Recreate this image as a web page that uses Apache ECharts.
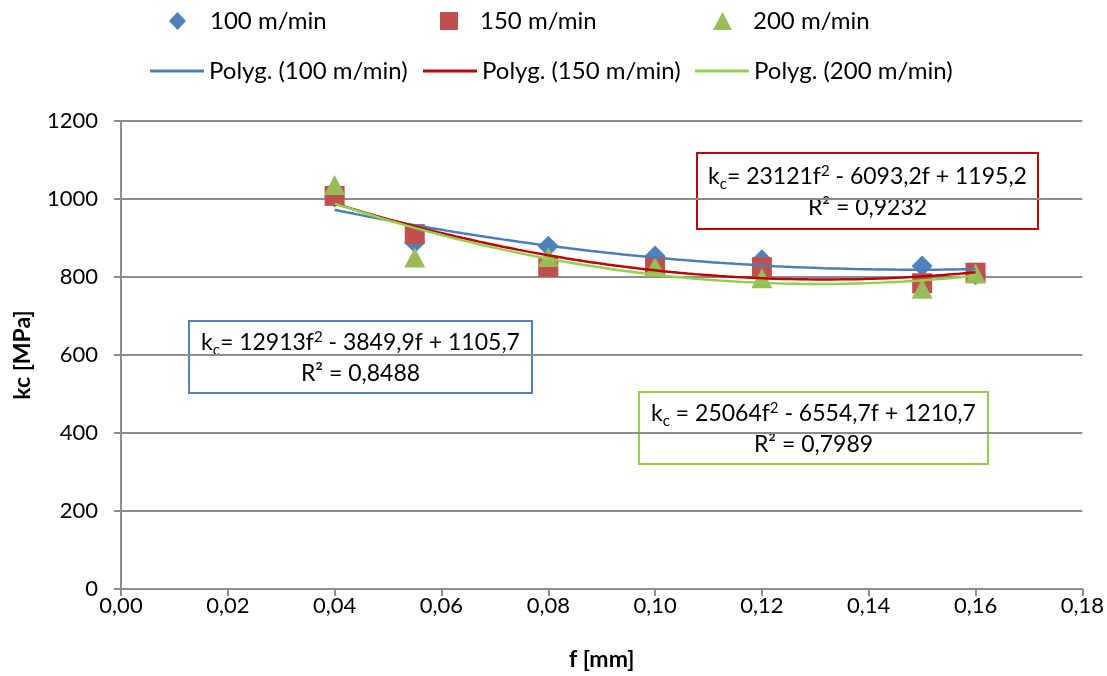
<!DOCTYPE html>
<html>
<head>
<meta charset="utf-8">
<script src="https://cdn.jsdelivr.net/npm/echarts@6/dist/echarts.min.js"></script>
<style>
  html, body { margin: 0; padding: 0; background: #ffffff; }
  #chart { width: 1107px; height: 676px; }
</style>
</head>
<body>
<div id="chart"></div>
<script>
// Measured specific cutting force kc versus feed f, for three cutting speeds
const feed  = [0.04, 0.055, 0.08, 0.10, 0.12, 0.15, 0.16];
const kc100 = [1005, 888, 879, 854, 844, 828, 806];
const kc150 = [1008, 910, 826, 828, 825, 784, 811];
const kc200 = [1036, 850, 851, 826, 797, 770, 809];

// Second-order polynomial trend lines: [a2, a1, a0] for kc = a2*f^2 + a1*f + a0
const fit100 = [12913, -3849.9, 1105.7];
const fit150 = [23121, -6093.2, 1195.2];
const fit200 = [25064, -6554.7, 1210.7];
const rsq = ['0,8488', '0,9232', '0,7989'];

const speeds = ['100 m/min', '150 m/min', '200 m/min'];
const trendNames = ['Polyg. (100 m/min)', 'Polyg. (150 m/min)', 'Polyg. (200 m/min)'];

const FONT = 'Lato';
const C_BLUE = '#4F81BD', C_RED = '#C0504D', C_GREEN = '#9BBB59';
const L_BLUE = '#4A7EBB', L_RED = '#C00000', L_GREEN = '#92D050';

function pairs(xs, ys) { return xs.map((x, i) => [x, ys[i]]); }

// sample the trend polynomial across the measured feed range
function trend(c) {
  const out = [];
  const f0 = feed[0], f1 = feed[feed.length - 1];
  const n = 80;
  for (let i = 0; i <= n; i++) {
    const f = f0 + (f1 - f0) * i / n;
    out.push([f, c[0] * f * f + c[1] * f + c[2]]);
  }
  return out;
}

function num(v) { return String(v).replace('.', ','); }
function eqText(c, r2, spaced) {
  const sign1 = c[1] < 0 ? '-' : '+';
  const sign0 = c[2] < 0 ? '-' : '+';
  return '{k|k}{s|c}{t|' + (spaced ? ' = ' : '= ') + num(c[0]) + 'f}{p|2}{t| ' + sign1 + ' ' +
         num(Math.abs(c[1])) + 'f ' + sign0 + ' ' + num(Math.abs(c[2])) + '}\n{t|R² = ' + r2 + '}';
}

function eqBox(x, y, w, h, color, c, r2, spaced) {
  return {
    type: 'group',
    left: x, top: y,
    z: 100,
    children: [
      { type: 'rect', shape: { x: 0, y: 0, width: w, height: h },
        style: { fill: '#ffffff', stroke: color, lineWidth: 2 } },
      { type: 'text', x: w / 2, y: h / 2 + 1,
        style: {
          text: eqText(c, r2, spaced),
          align: 'center', verticalAlign: 'middle',
          rich: {
            k: { fontFamily: FONT, fontSize: 23, color: color, lineHeight: 31 },
            s: { fontFamily: FONT, fontSize: 15, color: color, lineHeight: 31, padding: [15, 0, 0, 0] },
            p: { fontFamily: FONT, fontSize: 15, color: color, lineHeight: 31, padding: [0, 0, 10, 0] },
            t: { fontFamily: FONT, fontSize: 23, color: color, lineHeight: 31, align: 'center' }
          }
        } }
    ]
  };
}

function legendItem(name, left, top, w, h, pad, icon) {
  return {
    data: [icon ? { name: name, icon: icon } : name],
    left: left, top: top, itemWidth: w, itemHeight: h,
    orient: 'horizontal', padding: 0,
    textStyle: { fontFamily: FONT, fontSize: 24, color: '#000000', padding: [0, 0, 0, pad] }
  };
}

const chart = echarts.init(document.getElementById('chart'), null, { renderer: 'canvas' });

const axisGray = '#8C8C8C';

chart.setOption({
  animation: false,
  backgroundColor: '#ffffff',
  legend: [
    legendItem(speeds[0], 169, 9, 17, 18, 19),
    legendItem(speeds[1], 440, 9, 18, 18, 17),
    legendItem(speeds[2], 713, 9, 19, 18, 16),
    legendItem(trendNames[0], 150, 59, 54, 3, 0, 'rect'),
    legendItem(trendNames[1], 423, 59, 54, 3, 0, 'rect'),
    legendItem(trendNames[2], 695, 59, 54, 3, 0, 'rect')
  ],
  grid: { left: 121, right: 23, top: 121, bottom: 87, containLabel: false },
  xAxis: {
    type: 'value', min: 0, max: 0.18, interval: 0.02,
    name: 'f [mm]', nameLocation: 'middle', nameGap: 59,
    nameTextStyle: { fontFamily: FONT, fontSize: 23, fontWeight: 'bold', color: '#000000' },
    axisLine: { show: true, lineStyle: { color: axisGray, width: 2 } },
    axisTick: { show: true, inside: false, length: 7, lineStyle: { color: axisGray, width: 2 } },
    axisLabel: { margin: 6, fontFamily: FONT, fontSize: 22, color: '#000000',
                 formatter: v => v.toFixed(2).replace('.', ',') },
    splitLine: { show: false }
  },
  yAxis: {
    type: 'value', min: 0, max: 1200, interval: 200,
    name: 'kc [MPa]', nameLocation: 'middle', nameGap: 87,
    nameTextStyle: { fontFamily: FONT, fontSize: 23, fontWeight: 'bold', color: '#000000' },
    axisLine: { show: true, lineStyle: { color: axisGray, width: 2 } },
    axisTick: { show: true, inside: false, length: 7, lineStyle: { color: axisGray, width: 2 } },
    axisLabel: { margin: 23, fontFamily: FONT, fontSize: 22, color: '#000000',
                 formatter: v => String(v) },
    splitLine: { show: true, lineStyle: { color: axisGray, width: 2 } }
  },
  series: [
    { name: speeds[0], type: 'scatter', symbol: 'diamond', symbolSize: [21, 21],
      itemStyle: { color: C_BLUE, opacity: 1 }, data: pairs(feed, kc100), z: 3 },
    { name: speeds[1], type: 'scatter', symbol: 'rect', symbolSize: [20, 20],
      itemStyle: { color: C_RED, opacity: 1 }, data: pairs(feed, kc150), z: 4 },
    { name: speeds[2], type: 'scatter', symbol: 'triangle', symbolSize: [21, 20],
      itemStyle: { color: C_GREEN, opacity: 1 }, data: pairs(feed, kc200), z: 5 },
    { name: trendNames[0], type: 'line', symbol: 'none', showSymbol: false, smooth: false,
      lineStyle: { color: L_BLUE, width: 2.5 }, itemStyle: { color: L_BLUE },
      data: trend(fit100), z: 6 },
    { name: trendNames[1], type: 'line', symbol: 'none', showSymbol: false, smooth: false,
      lineStyle: { color: L_RED, width: 2.5 }, itemStyle: { color: L_RED },
      data: trend(fit150), z: 7 },
    { name: trendNames[2], type: 'line', symbol: 'none', showSymbol: false, smooth: false,
      lineStyle: { color: L_GREEN, width: 2.5 }, itemStyle: { color: L_GREEN },
      data: trend(fit200), z: 8 }
  ],
  graphic: [
    eqBox(696, 152, 341, 76, L_RED, fit150, rsq[1], false),
    eqBox(188, 320, 343, 72, C_BLUE, fit100, rsq[0], false),
    eqBox(638, 391, 349, 72, L_GREEN, fit200, rsq[2], true)
  ]
});
</script>
</body>
</html>
